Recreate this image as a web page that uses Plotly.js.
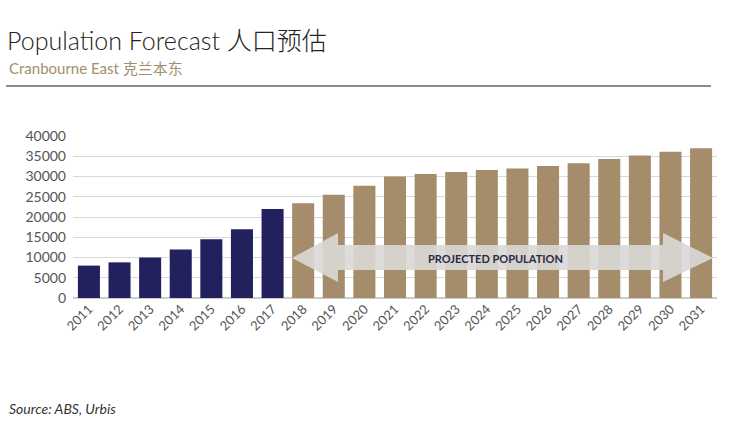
<!DOCTYPE html>
<html>
<head>
<meta charset="utf-8">
<script src="https://cdn.plot.ly/plotly-3.0.1.min.js"></script>
<style>
  html, body { margin: 0; padding: 0; background: #ffffff; }
  #chart { width: 741px; height: 433px; }
</style>
</head>
<body>
<div id="chart"></div>
<script>
// ---- Data ----
const years = ["2011","2012","2013","2014","2015","2016","2017","2018","2019","2020","2021",
               "2022","2023","2024","2025","2026","2027","2028","2029","2030","2031"];
const historical = [8000, 8800, 10000, 12000, 14500, 17000, 22000,
                    null, null, null, null, null, null, null, null, null, null, null, null, null, null];
const projected  = [null, null, null, null, null, null, null,
                    23400, 25500, 27700, 30000, 30600, 31100, 31600, 32000, 32600, 33300, 34300, 35200, 36100, 37000];
const yTicks = [0, 5000, 10000, 15000, 20000, 25000, 30000, 35000, 40000];

const titleText = "Population Forecast 人口预估";
const subtitleText = "Cranbourne East 克兰本东";
const sourceText = "Source: ABS, Urbis";
const arrowText = "PROJECTED POPULATION";

// ---- Layout geometry (pixels) ----
const W = 741, H = 433;
const M = { l: 73, r: 24, t: 136, b: 135 };
const PW = W - M.l - M.r, PH = H - M.t - M.b;
const px = x => (x - M.l) / PW;          // pixel x -> paper x
const py = y => (H - M.b - y) / PH;       // pixel y -> paper y

const FONT = "Lato, 'Noto Sans CJK SC', sans-serif";

// Double-headed arrow path (paper coords)
const a = { x0: 292, x1: 713, hx0: 338, hx1: 663, by0: 245, by1: 270, hy0: 233, hy1: 282, cy: 258 };
const arrowPath = [
  `M ${px(a.x0)},${py(a.cy)}`,
  `L ${px(a.hx0)},${py(a.hy0)}`,
  `L ${px(a.hx0)},${py(a.by0)}`,
  `L ${px(a.hx1)},${py(a.by0)}`,
  `L ${px(a.hx1)},${py(a.hy0)}`,
  `L ${px(a.x1)},${py(a.cy)}`,
  `L ${px(a.hx1)},${py(a.hy1)}`,
  `L ${px(a.hx1)},${py(a.by1)}`,
  `L ${px(a.hx0)},${py(a.by1)}`,
  `L ${px(a.hx0)},${py(a.hy1)}`,
  "Z"
].join(" ");

const traces = [
  { type: "bar", x: years, y: historical, marker: { color: "#22215e" }, hoverinfo: "x+y", name: "Historical" },
  { type: "bar", x: years, y: projected,  marker: { color: "#a58c6b" }, hoverinfo: "x+y", name: "Projected" }
];

const layout = {
  width: W, height: H,
  margin: M,
  paper_bgcolor: "#ffffff",
  plot_bgcolor: "#ffffff",
  showlegend: false,
  barmode: "overlay",
  bargap: 0.28,
  font: { family: FONT, color: "#444444", size: 13 },
  title: {
    text: titleText,
    x: 7 / W, xref: "container", xanchor: "left",
    y: 1 - 41 / H, yref: "container", yanchor: "middle",
    font: { family: FONT, size: 25, color: "#222222", weight: 300 }
  },
  xaxis: {
    type: "category",
    range: [-0.52, 20.52],
    tickangle: -45,
    ticks: "",
    showgrid: false,
    showline: false,
    tickfont: { size: 13, color: "#555555" },
    fixedrange: true
  },
  yaxis: {
    range: [0, 40000],
    tickvals: yTicks,
    ticktext: yTicks.map(String),
    showgrid: true,
    gridcolor: "#d9d9d9",
    gridwidth: 1,
    zeroline: true,
    zerolinecolor: "#cccccc",
    zerolinewidth: 2,
    ticks: "",
    ticklabelstandoff: 6,
    tickfont: { size: 14, color: "#555555" },
    fixedrange: true
  },
  shapes: [
    { type: "line", xref: "paper", yref: "paper",
      x0: px(6), x1: px(711), y0: py(86), y1: py(86),
      line: { color: "#8e8c7e", width: 2 } },
    { type: "path", xref: "paper", yref: "paper", path: arrowPath, layer: "above",
      fillcolor: "rgba(218,216,214,0.9)", line: { width: 0 } }
  ],
  annotations: [
    { text: subtitleText, xref: "paper", yref: "paper", x: px(7), y: py(68),
      xanchor: "left", yanchor: "middle", showarrow: false,
      font: { family: FONT, size: 15, color: "#a28e6c" } },
    { text: arrowText, xref: "paper", yref: "paper", x: px(495), y: py(258),
      xanchor: "center", yanchor: "middle", showarrow: false,
      font: { family: FONT, size: 11, color: "#2a2a45", weight: 700 } },
    { text: "<i>" + sourceText + "</i>", xref: "paper", yref: "paper", x: px(7), y: py(408),
      xanchor: "left", yanchor: "middle", showarrow: false,
      font: { family: FONT, size: 14, color: "#333333", weight: 400 } }
  ]
};

Plotly.newPlot("chart", traces, layout, { displayModeBar: false, staticPlot: true });
</script>
</body>
</html>
